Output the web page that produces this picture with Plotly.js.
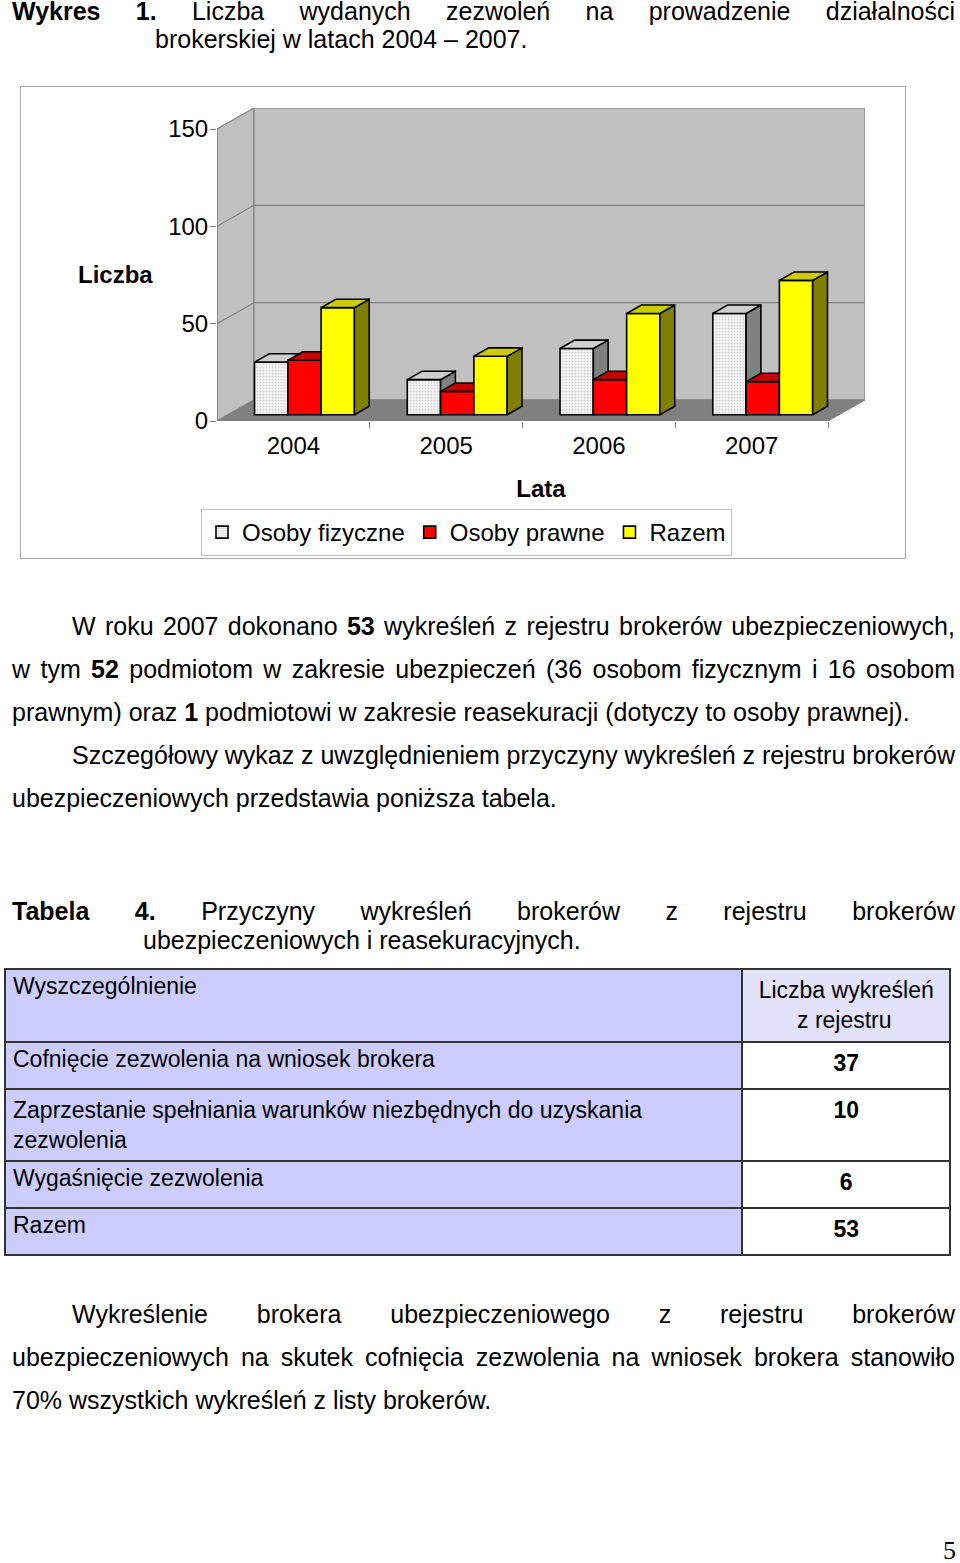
<!DOCTYPE html>
<html>
<head>
<meta charset="utf-8">
<script src="https://cdn.plot.ly/plotly-3.0.1.min.js"></script>
<style>
  html, body { margin:0; padding:0; background:#fff; }
  body { width:960px; height:1563px; position:relative; overflow:hidden;
         font-family:"Liberation Sans", Arial, sans-serif; color:#000; }
  .ln { position:absolute; left:12px; width:943px; font-size:25px; white-space:nowrap; }
  .j { white-space:normal; text-align:justify; text-align-last:justify; word-spacing:-3px; }
  #chart { position:absolute; left:20px; top:86px; width:886px; height:473px;
           outline:1px solid #a8a8a8; outline-offset:-1px; }
  #table { position:absolute; left:4px; top:968px; width:947px; height:295px; }
  .pg { position:absolute; left:943px; top:1536px; font-family:"Liberation Serif", "Times New Roman", serif; font-size:26px; }
</style>
</head>
<body>
<!-- heading -->
<div class="ln j" style="top:-3px;line-height:29px;"><b>Wykres 1.</b> Liczba wydanych zezwoleń na prowadzenie działalności</div>
<div class="ln" style="top:25px;left:155px;width:auto;line-height:29px;">brokerskiej w latach 2004 – 2007.</div>

<div id="chart"></div>

<!-- paragraph -->
<div class="ln j" style="top:605px;left:72px;width:883px;line-height:43px;">W roku 2007 dokonano <b>53</b> wykreśleń z rejestru brokerów ubezpieczeniowych,</div>
<div class="ln j" style="top:648px;line-height:43px;">w tym <b>52</b> podmiotom w zakresie ubezpieczeń (36 osobom fizycznym i 16 osobom</div>
<div class="ln" style="top:691px;line-height:43px;">prawnym) oraz <b>1</b> podmiotowi w zakresie reasekuracji (dotyczy to osoby prawnej).</div>
<div class="ln j" style="top:734px;left:72px;width:883px;line-height:43px;">Szczegółowy wykaz z uwzględnieniem przyczyny wykreśleń z rejestru brokerów</div>
<div class="ln" style="top:777px;line-height:43px;">ubezpieczeniowych przedstawia poniższa tabela.</div>

<!-- table caption -->
<div class="ln j" style="top:897px;line-height:29px;"><b>Tabela 4.</b> Przyczyny wykreśleń brokerów z rejestru brokerów</div>
<div class="ln" style="top:926px;left:143px;width:auto;line-height:29px;">ubezpieczeniowych i reasekuracyjnych.</div>

<div id="table"></div>

<!-- last paragraph -->
<div class="ln j" style="top:1293px;left:72px;width:883px;line-height:43px;">Wykreślenie brokera ubezpieczeniowego z rejestru brokerów</div>
<div class="ln j" style="top:1336px;line-height:43px;">ubezpieczeniowych na skutek cofnięcia zezwolenia na wniosek brokera stanowiło</div>
<div class="ln" style="top:1379px;line-height:43px;">70% wszystkich wykreśleń z listy brokerów.</div>

<div class="pg">5</div>

<script>
// ---------------- chart data ----------------
const years = ["2004", "2005", "2006", "2007"];
const seriesNames = ["Osoby fizyczne", "Osoby prawne", "Razem"];
const osobyFizyczne = [27, 18, 34, 52];
const osobyPrawne = [28, 12, 18, 17];
const razem = [55, 30, 52, 69];
const yTicks = [0, 50, 100, 150];

// ---------------- table data ----------------
const tableHeader = ["Wyszczególnienie", "Liczba wykreśleń<br>\u00a0\u00a0\u00a0\u00a0\u00a0\u00a0z rejestru"];
const reasons = ["Cofnięcie zezwolenia na wniosek brokera",
                 "Zaprzestanie spełniania warunków niezbędnych do uzyskania zezwolenia",
                 "Wygaśnięcie zezwolenia",
                 "Razem"];
const counts = [37, 10, 6, 53];

// ---------------- styling ----------------
const FONT = "Liberation Sans, Arial, sans-serif";
const frontCol = ["#f0f0f0", "#ff0000", "#ffff00"];
const topCol   = ["#cfcfcf", "#c80000", "#cccc00"];
const sideCol  = ["#808080", "#800000", "#808000"];
const seriesVals = [osobyFizyczne, osobyPrawne, razem];

const yMax = 150;
const dxU = 0.2422;     // depth offset in category units
const dyU = 10.8;       // depth offset in value units
const barW = 0.218;
const groupW = barW * 3;
const depthFront = 0.3, depthBar = 0.4;
const base = depthFront * dyU;
const shiftX = depthFront * dxU;
const ddx = depthBar * dxU, ddy = depthBar * dyU;
const xr = [-0.5, 3.5 + dxU];
const yr = [0, yMax + dyU];
const xIdx = years.map((_, i) => i);

const traces = [];
seriesVals.forEach((vals, s) => {
  const xa = s === 0 ? "x" : "x" + (s + 1);
  const ya = s === 0 ? "y" : "y" + (s + 1);
  const off = -groupW / 2 + shiftX + s * barW;
  const marker = { color: frontCol[s], line: { color: "#000", width: 1.6 } };
  if (s === 0) marker.pattern = { shape: ".", fgcolor: "#d0d0d0", bgcolor: "#f2f2f2", size: 3, solidity: 0.25 };
  traces.push({
    type: "bar", name: seriesNames[s], x: xIdx, y: vals,
    base: vals.map(() => base), offset: off, width: barW,
    marker: marker,
    xaxis: xa, yaxis: ya, hoverinfo: "skip", legendrank: s + 1
  });
  const tx = [], ty = [], sx = [], sy = [];
  vals.forEach((v, c) => {
    const x0 = c + off, x1 = x0 + barW, top = base + v;
    tx.push(x0, x1, x1 + ddx, x0 + ddx, x0, null);
    ty.push(top, top, top + ddy, top + ddy, top, null);
    sx.push(x1, x1, x1 + ddx, x1 + ddx, x1, null);
    sy.push(base, top, top + ddy, base + ddy, base, null);
  });
  traces.push({
    type: "scatter", mode: "lines", x: sx, y: sy, fill: "toself",
    fillcolor: sideCol[s], line: { color: "#000", width: 1.6 },
    xaxis: xa, yaxis: ya, showlegend: false, hoverinfo: "skip"
  });
  traces.push({
    type: "scatter", mode: "lines", x: tx, y: ty, fill: "toself",
    fillcolor: topCol[s], line: { color: "#000", width: 1.6 },
    xaxis: xa, yaxis: ya, showlegend: false, hoverinfo: "skip"
  });
});

const G = "#808080";
const shapes = [
  // left wall
  { type: "path", layer: "below", xref: "x", yref: "y",
    path: `M ${xr[0]},0 L ${xr[0] + dxU},${dyU} L ${xr[0] + dxU},${yMax + dyU} L ${xr[0]},${yMax} Z`,
    fillcolor: "#c0c0c0", line: { color: G, width: 1.2 } },
  // back wall
  { type: "rect", layer: "below", xref: "x", yref: "y",
    x0: xr[0] + dxU, x1: xr[1], y0: dyU, y1: yMax + dyU,
    fillcolor: "#c0c0c0", line: { color: G, width: 1.2 } },
  // floor
  { type: "path", layer: "below", xref: "x", yref: "y",
    path: `M ${xr[0]},0 L 3.5,0 L ${xr[1]},${dyU} L ${xr[0] + dxU},${dyU} Z`,
    fillcolor: "#808080", line: { color: G, width: 1 } },
  // front value axis
  { type: "line", layer: "below", xref: "x", yref: "y",
    x0: xr[0], x1: xr[0], y0: 0, y1: yMax, line: { color: G, width: 1.2 } }
];
yTicks.filter(v => v > 0 && v < yMax).forEach(v => {
  shapes.push({ type: "line", layer: "below", xref: "x", yref: "y",
    x0: xr[0], y0: v, x1: xr[0] + dxU, y1: v + dyU, line: { color: G, width: 1.2 } });
  shapes.push({ type: "line", layer: "below", xref: "x", yref: "y",
    x0: xr[0] + dxU, y0: v + dyU, x1: xr[1], y1: v + dyU, line: { color: G, width: 1.2 } });
});

const hidden = (ov) => ({ overlaying: ov, range: ov === "x" ? xr : yr, visible: false, fixedrange: true });

const layout = {
  width: 886, height: 473,
  margin: { l: 197, r: 41, t: 22, b: 138, autoexpand: false },
  paper_bgcolor: "rgba(0,0,0,0)", plot_bgcolor: "rgba(0,0,0,0)",
  font: { family: FONT, size: 24, color: "#000" },
  barmode: "overlay",
  showlegend: true,
  xaxis: {
    range: xr, fixedrange: true, showgrid: false, zeroline: false, showline: false, automargin: false,
    tickvals: xIdx, ticktext: years, ticks: "outside", ticklen: 3, tickcolor: "rgba(0,0,0,0)",
    tickfont: { size: 24 },
    minor: { tickvals: [0.5, 1.5, 2.5, 3.5], ticks: "outside", ticklen: 6, tickcolor: G, tickwidth: 1 },
    title: { text: "<b>Lata</b>", font: { size: 24 }, standoff: 22 }
  },
  yaxis: {
    range: yr, fixedrange: true, showgrid: false, zeroline: false, showline: false, automargin: false,
    tickvals: yTicks, ticks: "outside", ticklen: 6, tickcolor: G, tickfont: { size: 24 },
    ticklabelstandoff: -3
  },
  xaxis2: hidden("x"), yaxis2: hidden("y"),
  xaxis3: hidden("x"), yaxis3: hidden("y"),
  legend: {
    orientation: "h", xref: "container", yref: "container",
    x: 181 / 886, xanchor: "left", y: 1 - 423 / 473, yanchor: "top",
    bordercolor: "#c0c0c0", borderwidth: 1, bgcolor: "#fff", itemwidth: 30,
    font: { size: 24 }, traceorder: "normal", itemclick: false
  },
  annotations: [{
    text: "<b>Liczba</b>", xref: "paper", yref: "paper", x: -0.156, y: 0.4665,
    xanchor: "center", yanchor: "middle", showarrow: false, font: { size: 24 }
  }],
  shapes: shapes
};

Plotly.newPlot("chart", traces, layout, { staticPlot: true, displayModeBar: false });

// ---------------- table ----------------
const tableTrace = {
  type: "table",
  columnwidth: [739, 208],
  header: {
    values: tableHeader.map(h => [h]),
    align: ["left", "center"],
    fill: { color: ["#ccccff", "#e2e2fa"] },
    line: { color: "#333", width: 2 },
    font: { family: FONT, size: 23, color: "#000" },
    height: 73
  },
  cells: {
    values: [reasons, counts.map(c => "<b>" + c + "</b>")],
    align: ["left", "center"],
    fill: { color: ["#ccccff", "#ffffff"] },
    line: { color: "#333", width: 2 },
    font: { family: FONT, size: 23, color: "#000" },
    height: 47
  },
  domain: { x: [0, 1], y: [0, 1] }
};
Plotly.newPlot("table", [tableTrace], {
  width: 947, height: 295, margin: { l: 1, r: 1, t: 1, b: 1 },
  paper_bgcolor: "rgba(0,0,0,0)", font: { family: FONT }
}, { staticPlot: true, displayModeBar: false });
</script>
</body>
</html>
